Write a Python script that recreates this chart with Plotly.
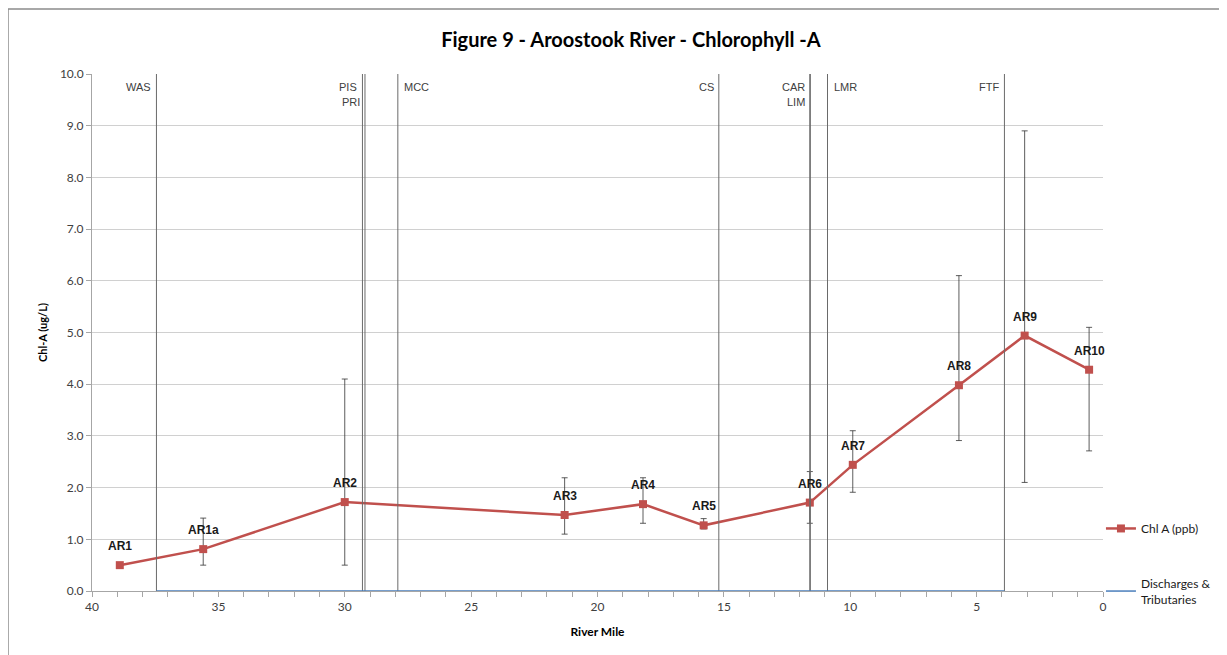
import plotly.graph_objects as go

# Sampling sites
sites = ["AR1", "AR1a", "AR2", "AR3", "AR4", "AR5", "AR6", "AR7", "AR8", "AR9", "AR10"]
site_miles = [38.9, 35.6, 30.0, 21.3, 18.2, 15.8, 11.6, 9.9, 5.7, 3.1, 0.55]
chl_a = [0.50, 0.81, 1.72, 1.47, 1.68, 1.27, 1.71, 2.44, 3.98, 4.94, 4.28]
chl_max = [0.50, 1.41, 4.10, 2.19, 2.19, 1.40, 2.31, 3.10, 6.10, 8.90, 5.10]
chl_min = [0.50, 0.50, 0.50, 1.10, 1.31, 1.20, 1.31, 1.91, 2.91, 2.10, 2.71]

# Discharges & tributaries
dis_names = ["WAS", "PIS", "PRI", "MCC", "CS", "CAR", "LIM", "LMR", "FTF"]
dis_miles = [37.45, 29.3, 29.2, 27.9, 15.2, 11.6, 11.58, 10.9, 3.9]
dis_base = [0, 0, 0, 0, 0, 0, 0, 0, 0]
dis_top = [10, 10, 10, 10, 10, 10, 10, 10, 10]
dis_side = ["right", "right", "right", "left", "right", "right", "right", "left", "right"]
dis_row = [0, 0, 1, 0, 0, 0, 1, 0, 0]

y_ticks = [0, 1, 2, 3, 4, 5, 6, 7, 8, 9, 10]
x_ticks = [40, 35, 30, 25, 20, 15, 10, 5, 0]

fig = go.Figure()

fig.add_trace(go.Scatter(
    x=site_miles, y=chl_a, mode="lines+markers", name="Chl A (ppb)",
    legendgroup="a",
    line=dict(color="#C0504D", width=2.5),
    marker=dict(symbol="square", size=8, color="#C0504D"),
    error_y=dict(type="data", symmetric=False,
                 array=[h - v for h, v in zip(chl_max, chl_a)],
                 arrayminus=[v - l for v, l in zip(chl_a, chl_min)],
                 color="#333333", thickness=0.8, width=3),
))

fig.add_trace(go.Scatter(
    x=dis_miles, y=dis_base, mode="lines", name="Discharges &<br>Tributaries",
    legendgroup="b",
    line=dict(color="#4A7EBB", width=1.5),
    error_y=dict(type="data", symmetric=False, array=dis_top,
                 arrayminus=dis_base, color="#6a6a6a", thickness=1, width=0),
))

for s, m, v in zip(sites, site_miles, chl_a):
    fig.add_annotation(
        x=m, y=v, text=f"<b>{s}</b>", showarrow=False,
        xanchor="center", yanchor="middle", yshift=19,
        font=dict(family="Liberation Sans", size=12, color="#1a1a1a"),
    )

for name, m, side, row in zip(dis_names, dis_miles, dis_side, dis_row):
    fig.add_annotation(
        x=m, y=10, text=name, showarrow=False,
        xanchor="right" if side == "right" else "left", yanchor="top",
        xshift=-3 if side == "right" else 4, yshift=-5 - 15 * row,
        font=dict(family="Liberation Sans", size=11, color="#404040"),
    )

fig.add_shape(type="rect", xref="paper", yref="paper",
              x0=-0.0831, x1=1.2, y0=-0.2, y1=1.1257,
              line=dict(color="#8c8c8c", width=1.5), layer="below")

fig.update_layout(
    width=1219, height=647,
    margin=dict(l=84, r=124, t=66, b=64, autoexpand=False),
    paper_bgcolor="white", plot_bgcolor="white",
    title=dict(text="<b>Figure 9 - Aroostook River - Chlorophyll -A</b>",
               x=0.511, xanchor="center", y=0.951, yanchor="middle",
               font=dict(family="Lato", size=20, color="#000000")),
    showlegend=True,
    legend=dict(xref="container", yref="container", x=0.8966, y=0.218,
                xanchor="left", yanchor="top",
                font=dict(family="Lato", size=12, color="#1a1a1a"),
                bgcolor="rgba(0,0,0,0)", tracegroupgap=36,
                traceorder="grouped"),
    xaxis=dict(range=[40, 0], tickvals=x_ticks, ticks="outside", ticklen=5,
               tickcolor="#a6a6a6", showline=True, linecolor="#a6a6a6",
               showgrid=False, zeroline=False,
               minor=dict(dtick=1, ticks="outside", ticklen=5, tickcolor="#a6a6a6"),
               tickfont=dict(family="Lato", size=12, color="#404040"),
               title=dict(text="<b>River Mile</b>", standoff=14,
                          font=dict(family="Lato", size=12, color="#000000"))),
    yaxis=dict(range=[0, 10], tickvals=y_ticks, tickformat=".1f",
               ticks="outside", ticklen=5, tickcolor="#a6a6a6",
               showline=True, linecolor="#a6a6a6",
               showgrid=True, gridcolor="#d0d0d0", gridwidth=1, zeroline=False,
               tickfont=dict(family="Lato", size=12, color="#404040"),
               title=dict(text="<b>Chl-A (ug/L)</b>", standoff=10,
                          font=dict(family="Lato", size=11, color="#000000"))),
)

fig.write_html("out.html")
